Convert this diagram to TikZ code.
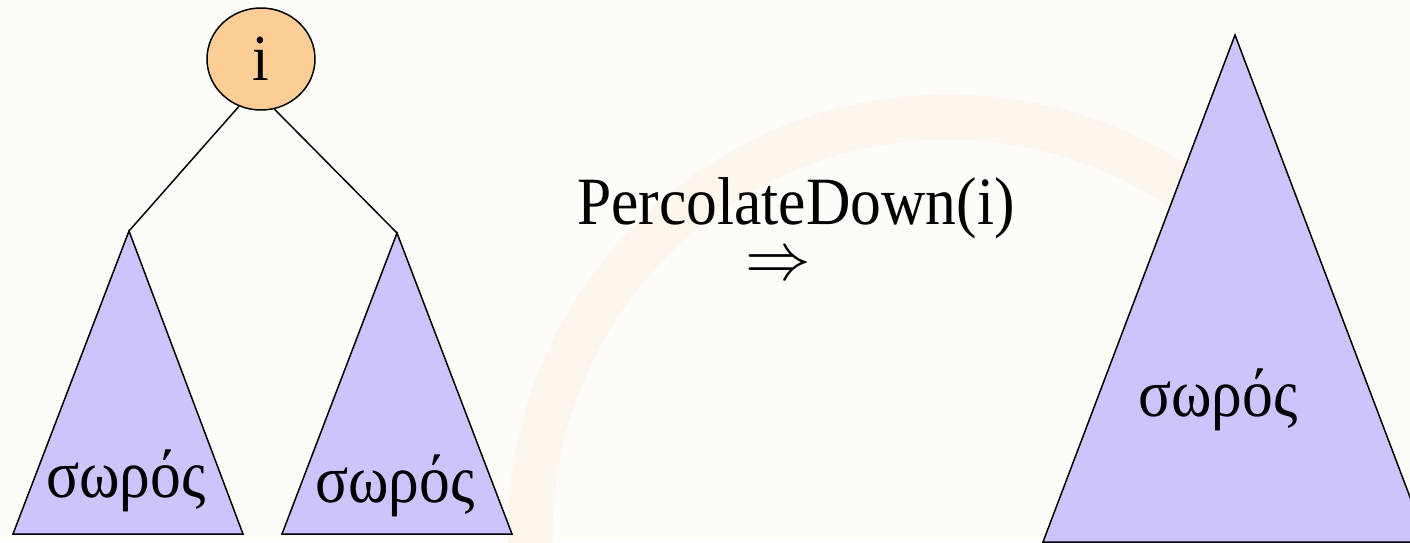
\documentclass[tikz,border=0pt]{standalone}
\usepackage{fontspec}
\usepackage{graphicx}
\setmainfont{Liberation Serif}
\definecolor{bgcol}{RGB}{254,252,248}
\definecolor{arccol}{RGB}{253,246,236}
\definecolor{heapcol}{RGB}{204,196,250}
\definecolor{rootcol}{RGB}{253,205,150}
\newlength{\pxu}
\setlength{\pxu}{0.02cm}
\newcommand{\stretchy}[1]{\scalebox{1}[1.1]{#1}}
\tikzset{
  heap/.style={draw=black, fill=heapcol, line width=0.85pt, line join=miter},
  rootnode/.style={ellipse, draw=black, fill=rootcol, line width=0.85pt, minimum width=108\pxu, minimum height=102\pxu, inner sep=0pt},
  edge/.style={draw=black, line width=0.85pt},
  heaplabel/.style={font=\fontsize{35}{35}\selectfont, inner sep=0pt, anchor=base},
}
\usetikzlibrary{shapes.geometric}
\begin{document}
\begin{tikzpicture}[x=0.02cm, y=-0.02cm]
  \useasboundingbox (0,0) rectangle (1410,542);
  \fill[bgcol] (0,0) rectangle (1410,542);
  \begin{scope}
    \clip (0,0) rectangle (1410,542);
    \draw[arccol, line width=45\pxu] (948,535) circle[radius=418];
  \end{scope}

  % left subtree
  \coordinate (lapex) at (129,231);
  \path[heap] (lapex) -- (243,534) -- (13,534) -- cycle;
  \node[heaplabel] (ltext) at (126,497) {\stretchy{σωρός}};

  % right subtree
  \coordinate (rapex) at (397,233);
  \path[heap] (rapex) -- (512,534) -- (282,534) -- cycle;
  \node[heaplabel] (rtext) at (395,502) {\stretchy{σωρός}};

  % root
  \node[rootnode] (root) at (261,59) {\fontsize{34}{34}\selectfont\stretchy{i}};
  \draw[edge] (root.245) -- (lapex);
  \draw[edge] (root.285) -- (rapex);

  % operation label
  \node[inner sep=0pt, anchor=base, font=\fontsize{35}{35}\selectfont] (op) at (796,224) {\stretchy{PercolateDown(i)}};
  \node[inner sep=0pt, font=\fontsize{24}{24}\selectfont] (arrow) at (778,267) {\scalebox{1.5}[1.55]{$\Rightarrow$}};

  % resulting heap
  \coordinate (bapex) at (1235,35);
  \path[heap] (bapex) -- (1427,542) -- (1043,542) -- cycle;
  \node[heaplabel] (btext) at (1218,416) {\stretchy{σωρός}};
\end{tikzpicture}
\end{document}
